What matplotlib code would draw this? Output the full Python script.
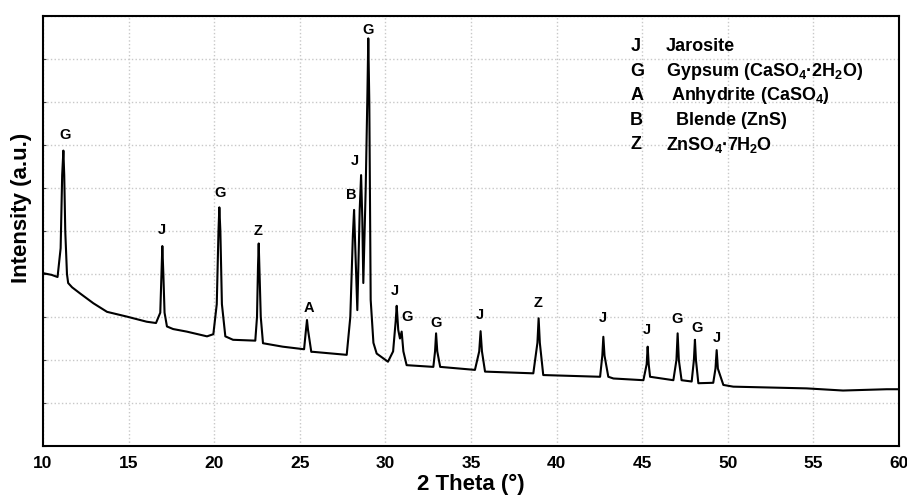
import matplotlib
matplotlib.use("Agg")
import matplotlib.pyplot as plt

plt.rcParams["font.family"] = ["Liberation Sans", "DejaVu Sans"]
plt.rcParams["font.weight"] = "bold"
plt.rcParams["mathtext.fontset"] = "custom"
plt.rcParams["mathtext.rm"] = "Liberation Sans:bold"
plt.rcParams["mathtext.bf"] = "Liberation Sans:bold"
plt.rcParams["mathtext.default"] = "bf"

# diffractogram (2 theta in degrees, intensity in a.u.)
two_theta = [
    10.0, 10.5, 10.85, 11.03, 11.12, 11.19, 11.24, 11.3, 11.4, 11.47,
    11.7, 12.16, 12.94, 13.74, 14.89, 16.06, 16.6,
    16.85, 16.92, 16.97, 17.03, 17.1, 17.24, 17.6, 18.4, 19.58, 19.95,
    20.15, 20.25, 20.3, 20.36, 20.45, 20.65, 21.1, 22.4,
    22.5, 22.56, 22.6, 22.65, 22.72, 22.85, 24.0, 25.25,
    25.36, 25.42, 25.48, 25.67, 25.77, 27.74,
    27.95, 28.1, 28.17, 28.25, 28.36, 28.5, 28.58, 28.65, 28.71,
    28.85, 28.95, 29.0, 29.06, 29.14, 29.3, 29.49, 30.15,
    30.45, 30.6, 30.66, 30.75, 30.85, 30.95, 31.05, 31.24, 32.8,
    32.9, 32.96, 33.03, 33.2, 35.23,
    35.48, 35.56, 35.64, 35.82, 38.64,
    38.88, 38.95, 39.02, 39.22, 42.54,
    42.67, 42.73, 42.8, 43.02, 43.32, 45.07,
    45.26, 45.32, 45.38, 45.46, 46.82,
    47.0, 47.07, 47.14, 47.3, 47.89,
    48.02, 48.08, 48.14, 48.28, 49.15,
    49.28, 49.35, 49.42, 49.74, 50.32, 54.6, 56.73, 59.28, 60.0,
]
intensity = [
    4.02, 3.98, 3.93, 4.6, 6.3, 6.87, 6.3, 5.0, 4.0, 3.79,
    3.69, 3.55, 3.32, 3.12, 3.01, 2.89, 2.86,
    3.1, 4.0, 4.65, 4.0, 3.1, 2.78, 2.72, 2.66, 2.55, 2.6,
    3.3, 5.0, 5.55, 5.0, 3.3, 2.55, 2.47, 2.45,
    3.0, 4.2, 4.71, 4.0, 3.0, 2.39, 2.31, 2.25,
    2.7, 2.93, 2.7, 2.19, 2.19, 2.12,
    3.0, 4.9, 5.49, 4.5, 3.16, 5.5, 6.3, 5.3, 3.79,
    6.0, 8.2, 9.48, 8.0, 3.4, 2.4, 2.15, 1.96,
    2.2, 2.9, 3.26, 2.7, 2.5, 2.66, 2.2, 1.88, 1.84,
    2.2, 2.62, 2.2, 1.84, 1.77,
    2.2, 2.67, 2.2, 1.73, 1.69,
    2.4, 2.97, 2.4, 1.65, 1.61,
    2.1, 2.54, 2.1, 1.61, 1.57, 1.53,
    1.9, 2.31, 1.9, 1.61, 1.53,
    2.0, 2.62, 2.0, 1.53, 1.50,
    2.0, 2.47, 2.0, 1.46, 1.47,
    1.8, 2.23, 1.8, 1.42, 1.38, 1.34, 1.29, 1.32, 1.32,
]

# phase letters above the peaks
peak_letters = ["G", "J", "G", "Z", "A", "B", "J", "G", "J", "G",
                "G", "J", "Z", "J", "J", "G", "G", "J"]
peak_x = [11.3, 16.93, 20.34, 22.58, 25.55, 27.99, 28.22, 29.0, 30.56, 31.24,
          32.96, 35.53, 38.89, 42.69, 45.26, 47.05, 48.18, 49.35]
peak_y = [7.23, 5.02, 5.89, 5.01, 3.2, 5.84, 6.63, 9.67, 3.61, 3.0,
          2.85, 3.05, 3.32, 2.97, 2.7, 2.95, 2.74, 2.5]

legend_keys = ["J", "G", "A", "B", "Z"]
legend_names = [
    "Jarosite",
    "Gypsum (CaSO$_4$\u00b72H$_2$O)",
    " Anhydrite (CaSO$_4$)",
    "  Blende (ZnS)",
    "ZnSO$_4$\u00b77H$_2$O",
]

fig = plt.figure(figsize=(9.07, 4.96), dpi=100)
ax = fig.add_axes([43 / 907, 50 / 496, 856 / 907, 430 / 496])

ax.plot(two_theta, intensity, color="black", lw=1.5)

for letter, x, y in zip(peak_letters, peak_x, peak_y):
    ax.text(x, y, letter, ha="center", va="center", fontsize=10.5, fontweight="bold")

# key for the phase letters, written as text in the upper right
for i, (key, name) in enumerate(zip(legend_keys, legend_names)):
    y = 0.928 - i * 0.057
    ax.text(0.686, y, key, transform=ax.transAxes, ha="left", va="center",
            fontsize=13, fontweight="bold")
    ax.text(0.7275, y, name, transform=ax.transAxes, ha="left", va="center",
            fontsize=13, fontweight="bold")

ax.set_xlim(10, 60)
ax.set_ylim(0, 10)
ax.set_xticks(range(10, 61, 5))
ax.set_yticks(range(0, 11))
ax.set_yticklabels([])
ax.grid(True, linestyle=":", color="#c8c8c8", lw=1.0)
ax.tick_params(axis="x", length=0, labelsize=12.5, pad=7)
ax.tick_params(axis="y", length=2, direction="in", color="#444444")
for lab in ax.get_xticklabels():
    lab.set_fontweight("bold")
for sp in ax.spines.values():
    sp.set_linewidth(1.5)

ax.set_xlabel("2 Theta (\u00b0)", fontsize=16, fontweight="bold", labelpad=2.5)
ax.set_ylabel("Intensity (a.u.)", fontsize=16, fontweight="bold")
ax.yaxis.set_label_coords(-0.013, 0.553)

fig.savefig("out.png", dpi=100)
